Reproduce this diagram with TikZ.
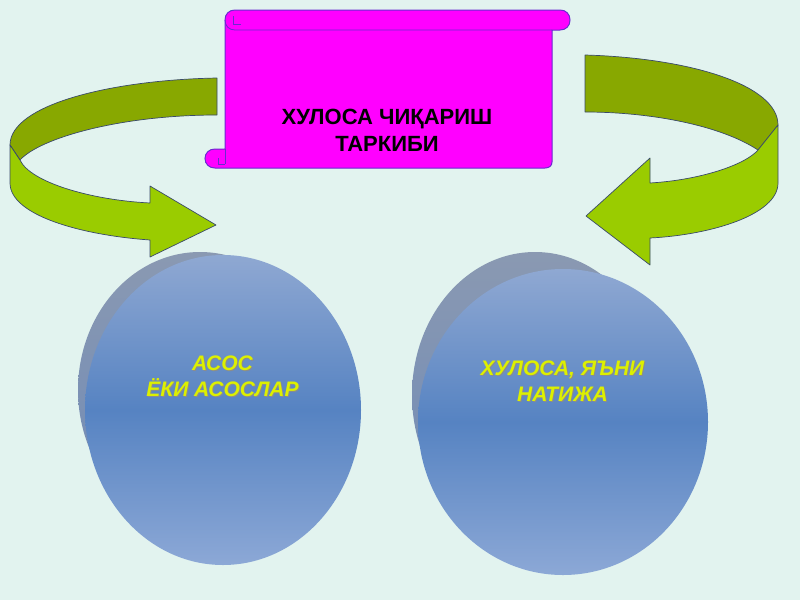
\documentclass[tikz,border=0pt]{standalone}
\usepackage{fontspec}
\setmainfont{Liberation Sans}
\definecolor{bg}{HTML}{E2F3EF}
\definecolor{mag}{HTML}{FF00FF}
\definecolor{magline}{HTML}{6A2AD0}
\definecolor{olivedark}{HTML}{88A800}
\definecolor{limelight}{HTML}{9ACC00}
\definecolor{arrline}{HTML}{3A4A6A}
\definecolor{discTop}{HTML}{8FA8D2}
\definecolor{discMid}{HTML}{5683C2}
\definecolor{discBot}{HTML}{8CA8D6}
\definecolor{backTop}{HTML}{8A99B2}
\definecolor{backBot}{HTML}{6F8AB6}
\definecolor{yel}{HTML}{DDF000}
\begin{document}
\begin{tikzpicture}[x=1pt,y=-1pt,
  scroll/.style={fill=mag,draw=magline,line width=1pt},
  scrollline/.style={draw=magline,line width=0.8pt},
  bandback/.style={fill=olivedark,draw=arrline,line width=0.7pt,line join=round},
  bandfront/.style={fill=limelight,draw=arrline,line width=0.7pt,line join=round},
  backdisc/.style={top color=backTop,bottom color=backBot},
  frontdisc/.style={top color=discTop,bottom color=discBot,middle color=discMid},
  titletext/.style={font=\bfseries\fontsize{22}{27}\selectfont,text=black,align=center},
  disctext/.style={font=\bfseries\itshape\fontsize{21}{26}\selectfont,text=yel,align=center},
  shadowtext/.style={font=\bfseries\itshape\fontsize{21}{26}\selectfont,text=black!45,align=center}
]
\fill[bg] (0,0) rectangle (800,600);
\useasboundingbox (0,0) rectangle (800,600);

% discs
\shade[backdisc] (200,390) ellipse [x radius=122, y radius=138];
\shade[frontdisc] (223,410) ellipse [x radius=138, y radius=155];
\shade[backdisc] (535,395) ellipse [x radius=123, y radius=143];
\shade[frontdisc] (563,422) ellipse [x radius=145, y radius=153];

% left curved arrow
\draw[bandback] (217,78) .. controls (110,80) and (10,105) .. (10,145)
  -- (20,160) .. controls (40,138) and (120,115) .. (217,115) -- cycle;
\draw[bandfront] (10,145) -- (10,183) .. controls (10,215) and (80,235) .. (150,240)
  -- (150,257) -- (216,225) -- (150,186) -- (150,203)
  .. controls (90,200) and (30,182) .. (20,160) -- cycle;

% right curved arrow
\draw[bandback] (585,55) .. controls (690,58) and (778,85) .. (778,125)
  -- (758,150) .. controls (720,125) and (650,112) .. (585,112) -- cycle;
\draw[bandfront] (778,125) -- (778,183) .. controls (778,215) and (710,235) .. (650,238)
  -- (650,265) -- (586,216) -- (650,158) -- (650,183)
  .. controls (700,180) and (745,165) .. (758,150) -- cycle;

% scroll
\draw[scroll] (225,20) .. controls (225,14) and (229,10) .. (235,10) -- (560,10)
  .. controls (566,10) and (570,14) .. (570,20) .. controls (570,26) and (566,30) .. (560,30)
  -- (552,30) -- (552,162) .. controls (552,166) and (549,168) .. (545,168)
  -- (215,168) .. controls (209,168) and (205,164) .. (205,158.5)
  .. controls (205,153) and (209,149) .. (215,149) -- (225,149) -- cycle;
\draw[scrollline] (225,20) .. controls (225,26) and (229,30) .. (235,30) -- (552,30);
\draw[scrollline] (233,16) -- (233,24) -- (241,24);
\draw[scrollline] (218,158) -- (218,164) -- (225,164);
\draw[scrollline] (225,149) -- (225,164);

% texts
\node[titletext] (title) at (387,130) {ХУЛОСА ЧИҚАРИШ\\ТАРКИБИ};
\node[shadowtext] at (223.5,377.5) {АСОС\\ЁКИ АСОСЛАР};
\node[disctext] (discL) at (222.5,376.5) {АСОС\\ЁКИ АСОСЛАР};
\node[shadowtext] at (563.5,382.5) {ХУЛОСА, ЯЪНИ\\НАТИЖА};
\node[disctext] (discR) at (562.5,381.5) {ХУЛОСА, ЯЪНИ\\НАТИЖА};
\end{tikzpicture}
\end{document}
